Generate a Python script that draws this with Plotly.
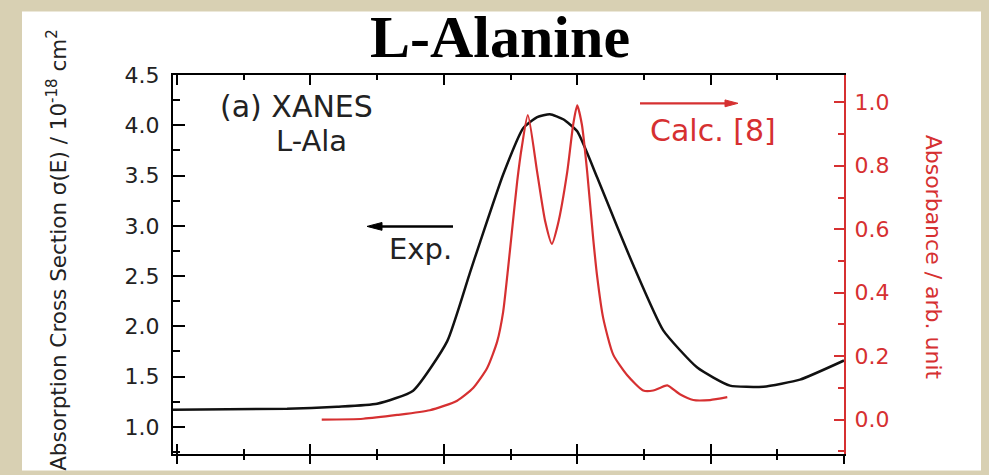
import plotly.graph_objects as go

# Experimental XANES (left axis): photon energy (eV) vs cross section (10^-18 cm^2)
exp_energy = [529.94, 531.65, 532.40, 533.00, 533.54, 534.05, 534.39, 534.54, 534.89, 535.19,
              535.40, 535.59, 535.79, 536.00, 536.30, 536.60, 536.84, 537.29, 537.80, 538.29,
              538.79, 539.34, 540.00]
exp_sigma = [1.17, 1.18, 1.20, 1.23, 1.36, 1.85, 2.53, 2.83, 3.51, 3.97,
             4.08, 4.11, 4.06, 3.94, 3.48, 2.99, 2.61, 1.96, 1.59, 1.41,
             1.40, 1.47, 1.66]

# Calculated spectrum [8] (right axis): energy vs absorbance (arb. unit)
calc_energy = [532.17, 532.79, 533.30, 533.79, 534.20, 534.44, 534.65, 534.80, 534.89, 534.96,
               535.02, 535.10, 535.17, 535.26, 535.40, 535.52, 535.62, 535.71, 535.85, 535.94,
               536.00, 536.07, 536.15, 536.24, 536.30, 536.39, 536.54, 536.75, 536.99, 537.14,
               537.24, 537.35, 537.54, 537.74, 537.99, 538.25]
calc_abs = [0.00, 0.003, 0.015, 0.03, 0.06, 0.10, 0.163, 0.246, 0.34, 0.47,
            0.59, 0.75, 0.86, 0.96, 0.78, 0.625, 0.554, 0.615, 0.78, 0.93,
            0.99, 0.93, 0.78, 0.57, 0.45, 0.32, 0.205, 0.14, 0.092, 0.092,
            0.10, 0.108, 0.08, 0.062, 0.062, 0.071]

left_ticks = [1.0, 1.5, 2.0, 2.5, 3.0, 3.5, 4.0, 4.5]
right_ticks = [0.0, 0.2, 0.4, 0.6, 0.8, 1.0]

RED = "#d63031"
INK = "#222222"
FONT = "DejaVu Sans"

L, R, T, B = 173, 145, 75, 12
W, H = 989, 475
pw, ph = W - L - R, H - T - B


def px(xp):
    return (xp - L) / pw


def py(yp):
    return (H - B - yp) / ph


fig = go.Figure()
fig.add_trace(go.Scatter(x=exp_energy, y=exp_sigma, mode="lines", name="Exp.",
                         line=dict(color="#111111", width=2.5, shape="spline", smoothing=0.5),
                         showlegend=False, hoverinfo="skip"))
fig.add_trace(go.Scatter(x=calc_energy, y=calc_abs, mode="lines", name="Calc. [8]", yaxis="y2",
                         line=dict(color=RED, width=2.2, shape="spline", smoothing=0.6),
                         showlegend=False, hoverinfo="skip"))
fig.add_trace(go.Scatter(x=[None], y=[None], xaxis="x3", yaxis="y", mode="lines",
                         showlegend=False, hoverinfo="skip"))


def arrow(x_tail, x_head, yp, color, head_len, half_h, width):
    d = 1 if x_head > x_tail else -1
    base = x_head - d * head_len
    line = dict(type="line", xref="paper", yref="paper",
                x0=px(x_tail), x1=px(base), y0=py(yp), y1=py(yp),
                line=dict(color=color, width=width))
    tri = dict(type="path", xref="paper", yref="paper",
               path=f"M {px(x_head)},{py(yp)} L {px(base)},{py(yp - half_h)} "
                    f"L {px(base)},{py(yp + half_h)} Z",
               fillcolor=color, line=dict(color=color, width=1))
    return [line, tri]


shapes = [dict(type="rect", xref="paper", yref="paper", x0=px(22), x1=px(981),
               y0=py(H + 5), y1=py(10), fillcolor="white", line=dict(width=0), layer="below")]
shapes += arrow(453, 367, 230, "black", 15, 4, 2.5)
shapes += arrow(640, 738, 104, RED, 13, 3.5, 2.2)

fig.update_layout(
    width=W, height=H,
    margin=dict(l=L, r=R, t=T, b=B),
    paper_bgcolor="#d8d0b3",
    plot_bgcolor="white",
    xaxis=dict(range=[529.94, 540], showgrid=False, zeroline=False, showline=True,
               linecolor="black", linewidth=2, mirror="ticks", ticks="inside",
               ticklen=10, tickwidth=2, tickcolor="black", dtick=2, tick0=530,
               showticklabels=False,
               minor=dict(ticks="inside", ticklen=5, tickwidth=2, dtick=1, tickcolor="black")),
    xaxis3=dict(range=[529.94, 540], overlaying="x", anchor="y", side="bottom",
                showgrid=False, zeroline=False, showline=False, ticks="outside",
                ticklen=9, tickwidth=2, tickcolor="black", dtick=2, tick0=530,
                showticklabels=False,
                minor=dict(ticks="outside", ticklen=5, tickwidth=2, dtick=1, tickcolor="black")),
    yaxis=dict(range=[0.73, 4.5], showgrid=False, zeroline=False, showline=True,
               linecolor="black", linewidth=2, ticks="inside", ticklen=12, tickwidth=2,
               tickcolor="black", tickvals=left_ticks, tickformat=".1f",
               ticklabelstandoff=7,
               tickfont=dict(family=FONT, size=22, color=INK),
               minor=dict(ticks="inside", ticklen=7, tickwidth=2, dtick=0.25, tickcolor="black")),
    yaxis2=dict(range=[-0.108, 1.086], overlaying="y", side="right", anchor="x",
                showgrid=False, zeroline=False, showline=True, linecolor=RED, linewidth=2,
                ticks="inside", ticklen=10, tickwidth=2, tickcolor=RED,
                tickvals=right_ticks, tickformat=".1f", ticklabelstandoff=4,
                tickfont=dict(family=FONT, size=22, color=RED),
                minor=dict(ticks="inside", ticklen=6, tickwidth=2, dtick=0.1, tickcolor=RED)),
    shapes=shapes,
)

ann = []
ann.append(dict(text="<b>L-Alanine</b>", xref="paper", yref="paper", x=px(500), y=py(0),
                showarrow=False, xanchor="center", yanchor="top",
                font=dict(family="Liberation Serif", size=60, color="black")))
ann.append(dict(text="Absorption Cross Section σ(E) / 10<sup>-18</sup> cm<sup>2</sup>",
                xref="paper", yref="paper", x=px(57), y=py(254), textangle=-90,
                showarrow=False, xanchor="center", yanchor="middle",
                font=dict(family=FONT, size=21.5, color=INK)))
ann.append(dict(text="Absorbance / arb. unit", xref="paper", yref="paper", x=px(933), y=py(261),
                textangle=90, showarrow=False, xanchor="center", yanchor="middle",
                font=dict(family=FONT, size=22, color=RED)))
ann.append(dict(text="(a) XANES", xref="paper", yref="paper", x=px(296), y=py(107),
                showarrow=False, xanchor="center", yanchor="middle",
                font=dict(family=FONT, size=30, color=INK)))
ann.append(dict(text="L-Ala", xref="paper", yref="paper", x=px(311), y=py(143),
                showarrow=False, xanchor="center", yanchor="middle",
                font=dict(family=FONT, size=29, color=INK)))
ann.append(dict(text="Exp.", xref="paper", yref="paper", x=px(420), y=py(253),
                showarrow=False, xanchor="center", yanchor="middle",
                font=dict(family=FONT, size=29, color=INK)))
ann.append(dict(text="Calc. [8]", xref="paper", yref="paper", x=px(713), y=py(132),
                showarrow=False, xanchor="center", yanchor="middle",
                font=dict(family=FONT, size=30, color=RED)))
fig.update_layout(annotations=ann)

fig.write_html("out.html")
